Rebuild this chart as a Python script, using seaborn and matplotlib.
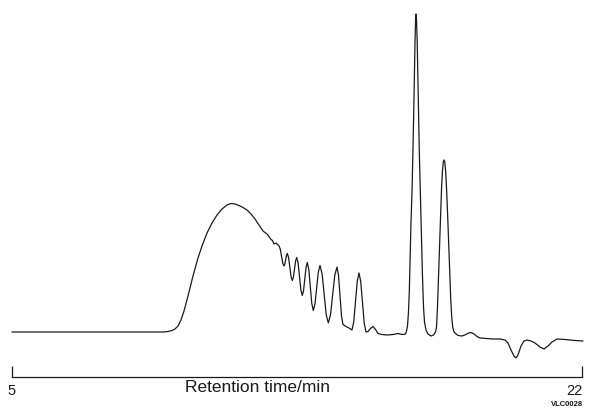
import pandas as pd
import seaborn as sns
import matplotlib
matplotlib.use('Agg')
import matplotlib.pyplot as plt

# chromatogram trace (retention time in min, detector signal in arbitrary units)
retention_time = [
    5.000, 6.432, 7.923, 9.116, 9.504, 9.653, 9.772, 9.861, 9.951, 10.040,
    10.130, 10.249, 10.398, 10.547, 10.667, 10.816, 10.965, 11.114, 11.263, 11.412,
    11.532, 11.651, 11.770, 11.889, 12.009, 12.128, 12.247, 12.367, 12.486, 12.546,
    12.605, 12.665, 12.725, 12.769, 12.814, 12.874, 12.963, 13.000, 13.038, 13.075,
    13.112, 13.136, 13.162, 13.187, 13.211, 13.248, 13.285, 13.323, 13.360, 13.393,
    13.425, 13.458, 13.491, 13.533, 13.575, 13.616, 13.658, 13.695, 13.733, 13.770,
    13.807, 13.852, 13.897, 13.941, 13.986, 14.037, 14.086, 14.135, 14.186, 14.249,
    14.310, 14.371, 14.434, 14.499, 14.563, 14.627, 14.693, 14.738, 14.782, 14.827,
    14.872, 14.961, 15.051, 15.140, 15.193, 15.245, 15.297, 15.349, 15.401, 15.454,
    15.506, 15.558, 15.618, 15.692, 15.767, 15.841, 15.916, 16.035, 16.184, 16.363,
    16.512, 16.632, 16.736, 16.766, 16.796, 16.825, 16.849, 16.876, 16.900, 16.930,
    16.960, 16.990, 17.019, 17.037, 17.049, 17.064, 17.085, 17.115, 17.148, 17.183,
    17.213, 17.243, 17.273, 17.303, 17.347, 17.407, 17.497, 17.571, 17.631, 17.661,
    17.690, 17.720, 17.750, 17.780, 17.810, 17.840, 17.863, 17.884, 17.908, 17.935,
    17.965, 17.995, 18.024, 18.054, 18.084, 18.114, 18.144, 18.182, 18.212, 18.302,
    18.421, 18.540, 18.615, 18.689, 18.779, 18.868, 18.958, 19.137, 19.346, 19.554,
    19.704, 19.793, 19.882, 19.972, 20.032, 20.091, 20.181, 20.270, 20.360, 20.479,
    20.598, 20.747, 20.867, 20.986, 21.105, 21.254, 21.493, 21.791, 22.030,
]
signal = [
    0, 0, 0, 0, 0, 0.5, 1.5, 3, 6, 12,
    21, 36, 56, 74, 86, 99, 109, 117, 123, 127,
    128.5, 128, 126.5, 124.5, 122, 118, 113, 107, 101, 99.5,
    98, 95.5, 92.5, 91.5, 88, 89, 86, 83, 76, 69,
    66, 67.8, 72.3, 76.7, 78.5, 74.6, 65, 55.4, 51.5, 54.9,
    63, 71.1, 74.5, 69, 55.5, 42, 36.5, 41.3, 53, 64.7,
    69.5, 62.5, 45.5, 28.5, 21.5, 28.1, 44, 59.9, 66.5, 58.1,
    37.8, 17.4, 9, 17.2, 37, 56.8, 65, 56.6, 36.3, 15.9,
    7.5, 5.5, 4, 2, 10.3, 30.5, 50.7, 59, 50.4, 29.5,
    8.6, 0, 0.5, 3.5, 5.5, 2.5, -1.5, -2.5, -3, -2.5,
    -1.5, -2.5, -2, 1, 6, 20, 40, 75, 110, 140,
    185, 235, 290, 312, 318, 313, 290, 235, 180, 135,
    95, 55, 25, 10, 2, -2, -4, -3, 0, 5,
    25, 55, 88, 118, 143, 162, 170, 172, 170, 160,
    140, 115, 88, 60, 34, 15, 5, 0, -1, -3.5,
    -4, -2.5, -1, -0.5, -2, -4.5, -6, -6.5, -7, -7,
    -8, -11, -18, -24, -26, -23, -14, -9, -8, -9,
    -11, -15, -17, -14, -10, -7, -7.5, -8.5, -9,
]
axis_ticks = [5, 22]
axis_label = 'Retention time/min'
figure_code = 'VLC0028'

df = pd.DataFrame({'time': retention_time, 'signal': signal})

sns.set_style('white')
plt.rcParams['font.family'] = ['Liberation Sans', 'DejaVu Sans']

fig = plt.figure(figsize=(5.94, 4.09), dpi=100)
ax = fig.add_axes([12 / 594, 32 / 409, 570 / 594, 372 / 409])

sns.lineplot(data=df, x='time', y='signal', ax=ax, color='#1a1a1a',
             linewidth=0.9, sort=False, estimator=None)
ax.lines[0].set_clip_on(False)

ax.set_xlim(5, 22)
ax.set_ylim(-45, 327)

for side in ['left', 'right', 'top']:
    ax.spines[side].set_visible(False)
ax.spines['bottom'].set_color('#1a1a1a')
ax.spines['bottom'].set_linewidth(0.9)

ax.set_yticks([])
ax.set_ylabel('')
ax.set_xticks(axis_ticks)
ax.set_xticklabels([str(t) for t in axis_ticks])
ax.get_xticklabels()[-1].set_horizontalalignment('right')
ax.tick_params(axis='x', direction='in', length=8, width=0.9, color='#1a1a1a',
               pad=5, labelsize=10.5, labelcolor='#1a1a1a', bottom=True)

ax.set_xlabel(axis_label, fontsize=12.5, color='#1a1a1a')
ax.xaxis.set_label_coords(0.43, -0.008)

fig.text(583 / 594, 5 / 409, figure_code, fontsize=5.5, fontweight='bold',
         color='#1a1a1a', ha='right', va='center')

plt.savefig('out.png', dpi=100)
